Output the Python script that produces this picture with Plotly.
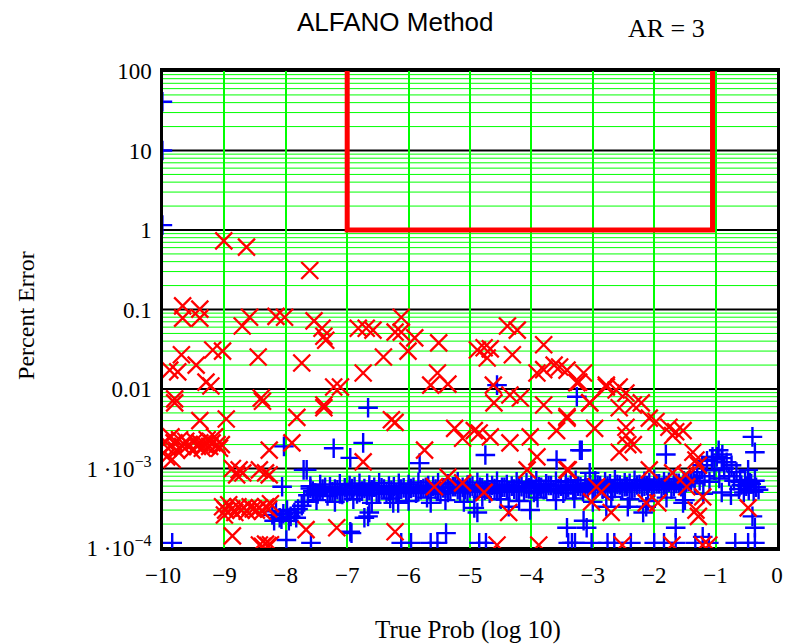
import plotly.graph_objects as go

# ---------------- data (log10 true prob, percent error) ----------------
red_x = [-9.01, -8.64, -7.61,
         -9.68, -9.40, -9.68, -9.40, -8.59, -8.71, -8.16, -8.02, -7.54, -7.41, -7.38, -7.35,
         -6.82, -6.69, -6.58, -6.22,
         -9.70, -9.89, -9.76, -9.46, -9.19, -9.03, -9.30, -9.22, -8.45, -7.74, -6.41, -6.74,
         -7.11, -9.81, -8.40, -7.38,
         -6.12, -6.12, -5.90, -6.01, -5.51, -4.39, -4.23, -4.88, -4.77, -4.67, -4.72, -4.31,
         -3.80, -5.53, -5.64, -5.36, -4.62, -3.91, -3.80, -3.63, -3.54, -3.42, -3.15, -3.23,
         -2.78, -2.62, -2.46, -4.35, -4.18, -4.61, -3.80, -3.05,
         -3.26, -2.78, -2.57, -3.05, -2.57, -2.34, -2.21, -3.42, -2.97, -2.46, -2.08, -1.97,
         -1.76, -1.65, -1.53, -1.70, -2.46, -2.43, -2.34, -2.57, -1.37, -1.32, -1.28, -3.42,
         -2.08, -1.70, -1.49, -2.94, -2.86, -1.47, -1.21, -3.02, -2.13, -1.94, -2.70, -1.32,
         -1.28, -0.47, -2.52, -1.71, -1.21, -1.11,
         -9.81, -8.38, -7.38, -9.40, -8.97, -7.82, -6.28,
         -9.97, -9.92, -9.87, -9.82, -9.78, -9.73, -9.68, -9.63, -9.58, -9.53, -9.48, -9.44,
         -9.40, -9.36, -9.32, -9.28, -9.24, -9.20, -9.16, -9.12, -9.08, -9.94, -9.85, -9.05,
         -8.27, -7.90, -6.74,
         -8.87, -8.76, -8.80, -8.70, -8.43, -8.33, -8.27,
         -9.03, -8.98, -8.93, -8.88, -8.83, -8.78, -8.73, -8.68, -8.63, -8.58, -8.53, -8.48,
         -8.43, -8.38, -8.33, -8.28, -8.25, -9.00,
         -8.87, -7.67, -7.17, -6.22,
         -8.43, -8.38, -8.33, -8.29, -8.25,
         -7.22, -6.22, -5.74, -5.25, -5.12, -4.93, -4.85, -4.67, -4.35, -4.02, -3.91,
         -4.07, -3.40, -5.58, -5.36, -5.12, -4.77, -4.37, -4.56, -3.88, -3.59, -3.42]
red_y = [0.73, 0.61, 0.31,
         0.111, 0.101, 0.078, 0.078, 0.080, 0.062, 0.082, 0.080, 0.072, 0.058, 0.046, 0.041,
         0.058, 0.058, 0.055, 0.052,
         0.027, 0.0173, 0.0164, 0.020, 0.031, 0.030, 0.0122, 0.0109, 0.0253, 0.0212, 0.0253, 0.0159,
         0.0106, 0.0075, 0.0077, 0.0063,
         0.080, 0.052, 0.044, 0.030, 0.038, 0.062, 0.055, 0.031, 0.033, 0.032, 0.0245, 0.027,
         0.036, 0.0159, 0.0112, 0.0115, 0.0112, 0.0159, 0.0175, 0.020, 0.0189, 0.0173, 0.0159, 0.0122,
         0.0106, 0.0097, 0.0089, 0.0084, 0.0077, 0.0067, 0.0063, 0.0067,
         0.012, 0.0112, 0.0106, 0.0067, 0.0058, 0.0063, 0.0067, 0.0045, 0.0032, 0.0033, 0.0043, 0.0039,
         0.0033, 0.0029, 0.0030, 0.0026, 0.0026, 0.0020, 0.0020, 0.0016, 0.0016, 0.00128, 0.00110, 0.00096,
         0.00096, 0.00088, 0.00083, 0.00059, 0.00051, 0.00059, 0.00044, 0.00038, 0.00037, 0.00037, 0.00028, 0.00030,
         0.00025, 0.00032, 0.000109, 0.000109, 0.000109, 0.000109,
         0.0067, 0.0070, 0.0058, 0.0040, 0.0042, 0.0044, 0.0041,
         0.0022, 0.0018, 0.0025, 0.0021, 0.0017, 0.0023, 0.0019, 0.0022, 0.0020, 0.0017, 0.0022, 0.0019,
         0.0021, 0.0018, 0.0020, 0.0023, 0.0019, 0.0021, 0.0025, 0.0020, 0.0018, 0.0014, 0.0013, 0.0020,
         0.0017, 0.0021, 0.00121,
         0.0010, 0.00096, 0.00083, 0.00088, 0.00096, 0.00088, 0.00083,
         0.00033, 0.00030, 0.00035, 0.00031, 0.00028, 0.00033, 0.00030, 0.00032, 0.00029, 0.00033, 0.00031, 0.00030,
         0.00032, 0.00029, 0.00033, 0.00031, 0.00036, 0.00026,
         0.000142, 0.00017, 0.00018, 0.00016,
         0.000109, 0.000105, 0.000112, 0.000107, 0.000110,
         0.0106, 0.0038, 0.0017, 0.0032, 0.0024, 0.0030, 0.0028, 0.0025, 0.0021, 0.0025, 0.0014,
         0.00096, 0.00096, 0.00059, 0.00078, 0.00066, 0.00050, 0.00028, 0.000109, 0.000109, 0.0030, 0.0043]

# scattered blue points
blue_x = [-10.01, -10.01, -10.01,
          -6.66, -6.74, -8.03, -7.22, -6.95, -7.71, -7.66, -8.06, -6.64, -6.72, -6.95, -6.25,
          -9.85, -7.99, -7.59,
          -5.82, -4.75, -3.59, -3.18, -3.26, -3.05, -6.17, -5.64, -4.93, -4.88, -4.37, -4.02,
          -6.66, -6.93, -5.39, -3.42, -3.15,
          -6.12, -5.96, -5.64, -5.53, -4.85, -4.74, -3.40, -3.29,
          -4.56, -3.21, -1.81, -0.40, -0.36, -0.89, -1.05, -0.95, -0.47, -1.53, -1.65, -0.36,
          -0.40, -3.10, -2.13, -2.18, -2.43, -2.78,
          -3.34, -3.02, -2.76, -2.65, -2.38, -2.00, -1.84, -1.65, -1.33, -1.11, -0.68, -0.47,
          -0.36, -1.21]
blue_y = [41, 10, 1.15,
          0.0058, 0.0021, 0.0019, 0.0018, 0.00136, 0.00096, 0.00096, 0.00059, 0.00028, 0.00024, 0.00016, 0.00037,
          0.000116, 0.000126, 0.000116,
          0.00117, 0.00148, 0.00128, 0.0017, 0.0080, 0.00088, 0.00037, 0.00037, 0.00032, 0.00028, 0.00033, 0.00030,
          0.00025, 0.000154, 0.000154, 0.00018, 0.00022,
          0.000116, 0.000116, 0.000116, 0.000116, 0.000116, 0.000116, 0.000116, 0.000116,
          0.0112, 0.0017, 0.0015, 0.0025, 0.0016, 0.0015, 0.0014, 0.0017, 0.00096, 0.00037, 0.00018, 0.00018,
          0.00025, 0.00018, 0.00033, 0.00028, 0.00033, 0.00033,
          0.000116, 0.000116, 0.000116, 0.000116, 0.000116, 0.000116, 0.000116, 0.000116, 0.000116, 0.000116, 0.000116, 0.000116,
          0.000116, 0.000138]

# dense blue band
band_x = [-8.22, -8.16, -8.10, -8.04, -7.98, -7.92, -7.86, -7.80, -7.74, -7.70,
          -7.64, -7.56, -7.48, -7.40, -7.32, -7.24, -7.16, -7.08, -7.00, -6.92,
          -6.84, -6.76, -6.68, -6.60, -6.52, -6.44, -6.36, -6.28, -6.20, -6.12,
          -6.04, -5.96, -5.88, -5.80, -5.72, -5.64, -5.56, -5.48, -5.40, -5.32,
          -5.24, -5.16, -5.08, -5.00, -4.92, -4.84, -4.76, -4.68, -4.60, -4.52,
          -4.44, -4.36, -4.28, -4.20, -4.12, -4.04, -3.96, -3.88, -3.80, -3.72,
          -3.64, -3.56, -3.48, -3.40, -3.32, -3.24, -3.16, -3.08, -3.00, -2.92,
          -2.84, -2.76, -2.68, -2.60, -2.52, -2.44, -2.36, -2.28, -2.20, -2.12,
          -2.04, -1.96, -1.88, -1.80, -1.72, -1.64, -1.56, -1.48, -1.40,
          -1.34, -1.30, -1.26, -1.22, -1.18, -1.14, -1.10, -1.06, -1.02, -0.98,
          -0.94, -0.90, -0.86, -0.82, -0.78, -0.74, -0.70, -0.66,
          -0.62, -0.58, -0.54, -0.50, -0.46, -0.42, -0.38, -0.34, -0.30,
          -7.50, -7.20, -6.90, -6.60, -6.30, -6.00, -5.70, -5.40, -5.10, -4.80,
          -4.50, -4.20, -3.90, -3.60, -3.30, -3.00, -2.70, -2.40, -2.10, -1.80,
          -1.50, -1.20, -0.90, -0.75,
          -7.60, -7.44, -7.28, -7.12, -6.96, -6.80, -6.64, -6.48, -6.32, -6.16,
          -6.00, -5.84, -5.68, -5.52, -5.36, -5.20, -5.04, -4.88, -4.72, -4.56,
          -4.40, -4.24, -4.08, -3.92, -3.76, -3.60, -3.44, -3.28, -3.12, -2.96,
          -2.80, -2.64, -2.48, -2.32, -2.16, -2.00, -1.84, -1.68, -1.52, -1.36,
          -0.60, -0.52, -0.44, -0.36,
          -8.19, -8.07, -7.95, -7.83,
          -7.60, -7.52, -7.44, -7.36, -7.28, -7.20, -7.12, -7.04, -6.96, -6.88,
          -6.80, -6.72, -6.64, -6.56, -6.48, -6.40, -6.32, -6.24, -6.16, -6.08,
          -6.00, -5.92, -5.84, -5.76, -5.68, -5.60, -5.52, -5.44, -5.36, -5.28,
          -5.20, -5.12, -5.04, -4.96, -4.88, -4.80, -4.72, -4.64, -4.56, -4.48,
          -4.40, -4.32, -4.24, -4.16, -4.08, -4.00, -3.92, -3.84, -3.76, -3.68,
          -3.60, -3.52, -3.44, -3.36, -3.28, -3.20, -3.12, -3.04, -2.96, -2.88,
          -2.80, -2.72, -2.64, -2.56, -2.48, -2.40, -2.32, -2.24, -2.16, -2.08,
          -2.00, -1.92, -1.84, -1.76, -1.68, -1.60, -1.52, -1.44]
band_y = [2.6e-4, 2.9e-4, 2.4e-4, 2.7e-4, 3.0e-4, 2.5e-4, 2.8e-4, 3.1e-4, 3.4e-4, 3.8e-4,
          4.6e-4, 5.2e-4, 4.8e-4, 5.5e-4, 4.5e-4, 5.1e-4, 5.4e-4, 4.7e-4, 5.0e-4, 5.6e-4,
          4.8e-4, 5.2e-4, 4.6e-4, 5.4e-4, 5.0e-4, 5.7e-4, 4.8e-4, 5.3e-4, 4.9e-4, 5.5e-4,
          5.0e-4, 5.6e-4, 4.9e-4, 5.4e-4, 5.8e-4, 5.1e-4, 5.5e-4, 4.8e-4, 5.7e-4, 5.2e-4,
          5.9e-4, 5.0e-4, 5.4e-4, 5.7e-4, 5.1e-4, 5.8e-4, 5.3e-4, 4.9e-4, 5.6e-4, 5.2e-4,
          5.8e-4, 5.1e-4, 5.5e-4, 6.0e-4, 5.2e-4, 5.7e-4, 5.0e-4, 5.9e-4, 5.4e-4, 6.1e-4,
          5.2e-4, 5.6e-4, 4.9e-4, 5.8e-4, 5.3e-4, 6.0e-4, 5.1e-4, 5.7e-4, 5.4e-4, 6.2e-4,
          5.5e-4, 6.0e-4, 5.2e-4, 6.3e-4, 5.6e-4, 5.9e-4, 5.3e-4, 6.2e-4, 5.7e-4, 6.1e-4,
          5.4e-4, 6.4e-4, 5.8e-4, 6.1e-4, 5.5e-4, 6.5e-4, 5.9e-4, 6.7e-4, 7.0e-4,
          6.5e-4, 9.0e-4, 7.0e-4, 11.0e-4, 8.0e-4, 12.5e-4, 6.8e-4, 13.0e-4, 9.5e-4, 14.0e-4,
          7.5e-4, 13.5e-4, 10.0e-4, 12.0e-4, 8.0e-4, 11.0e-4, 7.0e-4, 9.0e-4,
          5.5e-4, 6.2e-4, 5.0e-4, 6.0e-4, 5.3e-4, 6.4e-4, 5.1e-4, 5.8e-4, 5.4e-4,
          4.0e-4, 3.8e-4, 4.1e-4, 3.7e-4, 4.2e-4, 3.9e-4, 4.3e-4, 4.0e-4, 3.8e-4, 4.4e-4,
          4.1e-4, 3.9e-4, 4.3e-4, 4.0e-4, 4.2e-4, 3.8e-4, 4.4e-4, 4.1e-4, 3.9e-4, 4.3e-4,
          4.0e-4, 4.8e-4, 5.0e-4, 4.6e-4,
          6.0e-4, 6.3e-4, 5.9e-4, 6.4e-4, 6.1e-4, 6.5e-4, 6.2e-4, 6.6e-4, 6.0e-4, 6.5e-4,
          6.3e-4, 6.7e-4, 6.1e-4, 6.6e-4, 6.4e-4, 6.8e-4, 6.2e-4, 6.7e-4, 6.5e-4, 6.9e-4,
          6.3e-4, 6.8e-4, 6.6e-4, 7.0e-4, 6.4e-4, 6.9e-4, 6.7e-4, 7.1e-4, 6.5e-4, 7.0e-4,
          6.8e-4, 7.2e-4, 6.6e-4, 7.1e-4, 6.9e-4, 7.3e-4, 6.8e-4, 7.4e-4, 7.0e-4, 7.6e-4,
          6.8e-4, 7.2e-4, 6.6e-4, 7.0e-4,
          2.2e-4, 2.3e-4, 2.2e-4, 2.4e-4,
          5.6e-4, 4.9e-4, 5.3e-4, 5.8e-4, 5.1e-4, 5.5e-4, 4.8e-4, 5.7e-4, 5.2e-4, 5.9e-4,
          5.0e-4, 5.6e-4, 5.3e-4, 5.8e-4, 4.9e-4, 5.5e-4, 5.2e-4, 5.9e-4, 5.0e-4, 5.7e-4,
          5.3e-4, 5.8e-4, 5.1e-4, 5.6e-4, 5.4e-4, 6.0e-4, 5.2e-4, 5.7e-4, 5.0e-4, 5.9e-4,
          5.4e-4, 5.8e-4, 5.1e-4, 6.0e-4, 5.3e-4, 5.7e-4, 5.5e-4, 6.1e-4, 5.2e-4, 5.8e-4,
          5.4e-4, 6.0e-4, 5.3e-4, 5.9e-4, 5.6e-4, 6.2e-4, 5.2e-4, 5.8e-4, 5.5e-4, 6.1e-4,
          5.3e-4, 6.0e-4, 5.6e-4, 6.2e-4, 5.4e-4, 5.9e-4, 5.7e-4, 6.3e-4, 5.5e-4, 6.1e-4,
          5.8e-4, 6.4e-4, 5.6e-4, 6.2e-4, 5.9e-4, 6.5e-4, 5.7e-4, 6.3e-4, 6.0e-4, 6.6e-4,
          5.8e-4, 6.4e-4, 6.1e-4, 6.7e-4, 5.9e-4, 6.5e-4, 6.2e-4, 6.8e-4]

# red threshold outline
limit_x = [-7, -7, -1.05, -1.05]
limit_y = [100, 1, 1, 100]

x_ticks = [-10, -9, -8, -7, -6, -5, -4, -3, -2, -1, 0]
x_ticktext = ["\u221210", "\u22129", "\u22128", "\u22127", "\u22126", "\u22125",
              "\u22124", "\u22123", "\u22122", "\u22121", "0"]
y_decades = [1e-4, 1e-3, 0.01, 0.1, 1, 10, 100]
y_decade_text = ["1 \u00b710<sup>\u22124</sup>", "1 \u00b710<sup>\u22123</sup>", "0.01", "0.1", "1", "10", "100"]

SERIF = "Liberation Serif, Times New Roman, serif"

# horizontal grid: green lines at 2..9 inside every decade, black lines at the decades
minor_vals = [float(f"{m}e{e}") for e in range(-4, 2) for m in range(2, 10)]
shapes = [dict(type="line", xref="paper", x0=0, x1=1, yref="y", y0=v, y1=v, layer="below",
               line=dict(color="#00FF00", width=1)) for v in minor_vals]
shapes += [dict(type="line", xref="paper", x0=0, x1=1, yref="y", y0=v, y1=v, layer="below",
                line=dict(color="black", width=2.2)) for v in y_decades]

fig = go.Figure()
fig.add_trace(go.Scatter(x=band_x, y=band_y, mode="markers",
                         marker=dict(symbol="cross-thin", size=14, line=dict(color="#0000FF", width=2.4)),
                         showlegend=False))
fig.add_trace(go.Scatter(x=blue_x, y=blue_y, mode="markers",
                         marker=dict(symbol="cross-thin", size=14, line=dict(color="#0000FF", width=2.4)),
                         showlegend=False))
fig.add_trace(go.Scatter(x=red_x, y=red_y, mode="markers",
                         marker=dict(symbol="x-thin", size=17, line=dict(color="#FF0000", width=2.3)),
                         showlegend=False))
fig.add_trace(go.Scatter(x=limit_x, y=limit_y, mode="lines",
                         line=dict(color="#FF0000", width=5), showlegend=False))

fig.update_layout(
    width=795, height=644,
    margin=dict(l=163, r=14, t=71, b=96),
    paper_bgcolor="white", plot_bgcolor="white",
    font=dict(family=SERIF, size=20, color="black"),
    xaxis=dict(range=[-10, 0], tickmode="array", tickvals=x_ticks, ticktext=x_ticktext,
               showgrid=True, gridcolor="#00FF00", gridwidth=1.5, zeroline=False,
               showline=True, linecolor="black", linewidth=2.5, mirror=True,
               ticks="", ticklabelstandoff=5, tickfont=dict(family=SERIF, size=23)),
    yaxis=dict(type="log", range=[-4, 2], tickmode="array", tickvals=y_decades, ticktext=y_decade_text,
               showgrid=False, zeroline=False,
               showline=True, linecolor="black", linewidth=2.5, mirror=True,
               ticks="", ticklabelstandoff=4, tickfont=dict(family=SERIF, size=23)),
    shapes=shapes,
)

ann = [
    ("ALFANO Method", 397, 22, 0, "Liberation Sans, Arial, sans-serif", 26),
    ("AR = 3", 670, 28, 0, SERIF, 26),
    ("Percent Error", 25, 315, -90, SERIF, 24),
    ("True Prob (log 10)", 470, 630, 0, SERIF, 25),
]
W_PLOT = 795 - 163 - 14
H_PLOT = 644 - 71 - 96
for text, px, py, ang, fam, sz in ann:
    fig.add_annotation(text=text, xref="paper", yref="paper",
                       x=(px - 163) / W_PLOT, y=1 - (py - 71) / H_PLOT,
                       xanchor="center", yanchor="middle", showarrow=False, textangle=ang,
                       font=dict(family=fam, size=sz, color="black"))

fig.write_html("out.html")
